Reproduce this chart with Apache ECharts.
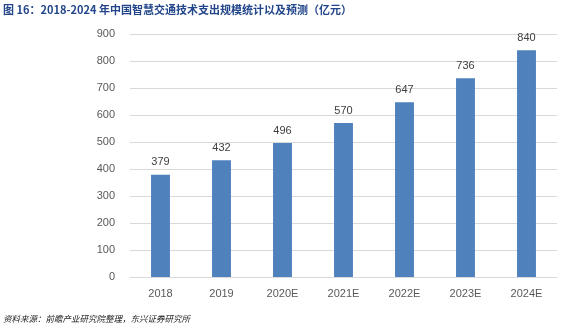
<!DOCTYPE html>
<html>
<head>
<meta charset="utf-8">
<script src="https://cdn.jsdelivr.net/npm/echarts@6/dist/echarts.min.js"></script>
<style>
html,body{margin:0;padding:0;background:#fff;}
#chart{width:564px;height:330px;}
</style>
</head>
<body>
<div id="chart"></div>
<script>
// Spending on smart-transport technology in China, 2018-2024 (100 million yuan)
const categories = ['2018', '2019', '2020E', '2021E', '2022E', '2023E', '2024E'];
const spending = [379, 432, 496, 570, 647, 736, 840];
const titleText = '图 16：2018-2024 年中国智慧交通技术支出规模统计以及预测（亿元）';
const sourceText = '资料来源：前瞻产业研究院整理，东兴证券研究所';

const chart = echarts.init(document.getElementById('chart'), null, {renderer: 'canvas'});
chart.setOption({
  animation: false,
  backgroundColor: '#ffffff',
  title: [{
    text: titleText,
    left: 3, top: 4, padding: 0,
    textStyle: {fontFamily: 'Noto Sans CJK SC', fontSize: 11, fontWeight: 'bold', color: '#23468a'}
  }, {
    text: sourceText,
    left: 3, top: 315, padding: 0,
    textStyle: {fontFamily: 'Noto Sans CJK SC', fontSize: 8.5, fontStyle: 'italic', fontWeight: 'normal', color: '#222222'}
  }],
  grid: {left: 130, right: 7, top: 34, bottom: 53},
  xAxis: {
    type: 'category',
    data: categories,
    axisLine: {show: true, lineStyle: {color: '#d9d9d9'}},
    axisTick: {show: false},
    axisLabel: {color: '#595959', fontSize: 11, fontFamily: 'Liberation Sans', margin: 11}
  },
  yAxis: {
    type: 'value',
    min: 0, max: 900, interval: 100,
    axisLine: {show: false},
    axisTick: {show: false},
    splitLine: {lineStyle: {color: '#d9d9d9'}},
    axisLabel: {color: '#595959', fontSize: 11, fontFamily: 'Liberation Sans', margin: 15}
  },
  series: [{
    type: 'bar',
    data: spending,
    barWidth: '31%',
    itemStyle: {color: '#4f81bd'},
    label: {show: true, position: 'top', distance: 7, color: '#404040', fontSize: 11, fontFamily: 'Liberation Sans'}
  }]
});
</script>
</body>
</html>
